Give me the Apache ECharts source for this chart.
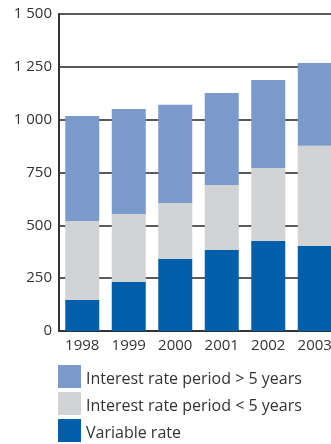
<!DOCTYPE html>
<html>
<head>
<meta charset="utf-8">
<script src="https://cdn.jsdelivr.net/npm/echarts@6/dist/echarts.min.js"></script>
<style>
  html, body { margin: 0; padding: 0; background: #fff; }
  #chart { width: 331px; height: 444px; }
</style>
</head>
<body>
<div id="chart"></div>
<script>
// Loans by interest rate period, 1998–2003
const years = ['1998', '1999', '2000', '2001', '2002', '2003'];
const variableRate = [148, 232, 341, 383, 426, 402];
const under5Years = [372, 322, 265, 308, 345, 474];
const over5Years = [497, 496, 464, 435, 417, 392];
const yTicks = [0, 250, 500, 750, 1000, 1250, 1500];

const names = {
  over: 'Interest rate period > 5 years',
  under: 'Interest rate period < 5 years',
  variable: 'Variable rate'
};

const font = 'Open Sans, DejaVu Sans, sans-serif';
const fmt = v => String(v).replace(/\B(?=(\d{3})+(?!\d))/g, ' ');

const chart = echarts.init(document.getElementById('chart'), null, { renderer: 'canvas' });
chart.setOption({
  animation: false,
  // plot area runs slightly past the right edge, so the last bar is cut off
  grid: { left: 59, top: 14, width: 279, bottom: 113, containLabel: false, outerBoundsMode: 'none' },
  legend: {
    orient: 'vertical',
    left: 58,
    top: 365,
    padding: 0,
    height: 90,
    icon: 'rect',
    itemWidth: 23,
    itemHeight: 23,
    itemGap: 4,
    data: [names.over, names.under, names.variable],
    formatter: name => '{t|' + name + '}',
    textStyle: {
      fontFamily: font, fontSize: 16, color: '#333',
      rich: { t: { fontFamily: font, fontSize: 16, color: '#333', padding: [5, 0, 0, 0] } }
    }
  },
  xAxis: {
    type: 'category',
    data: years,
    axisLine: { show: true, lineStyle: { color: '#333', width: 2 } },
    axisTick: { show: false },
    axisLabel: { fontFamily: font, fontSize: 15, color: '#333', margin: 7 }
  },
  yAxis: {
    type: 'value',
    min: yTicks[0],
    max: yTicks[yTicks.length - 1],
    interval: yTicks[1] - yTicks[0],
    axisLine: { show: true, lineStyle: { color: '#333', width: 2 } },
    axisTick: { show: false },
    axisLabel: { fontFamily: font, fontSize: 15, color: '#333', margin: 7, formatter: fmt },
    splitLine: { show: true, lineStyle: { color: '#5a5a5a', width: 2 } }
  },
  series: [
    { name: names.variable, type: 'bar', stack: 'total', data: variableRate, barWidth: 34, itemStyle: { color: '#005faa' } },
    { name: names.under, type: 'bar', stack: 'total', data: under5Years, barWidth: 34, itemStyle: { color: '#d2d3d5' } },
    { name: names.over, type: 'bar', stack: 'total', data: over5Years, barWidth: 34, itemStyle: { color: '#7a9acb' } }
  ]
});
</script>
</body>
</html>
